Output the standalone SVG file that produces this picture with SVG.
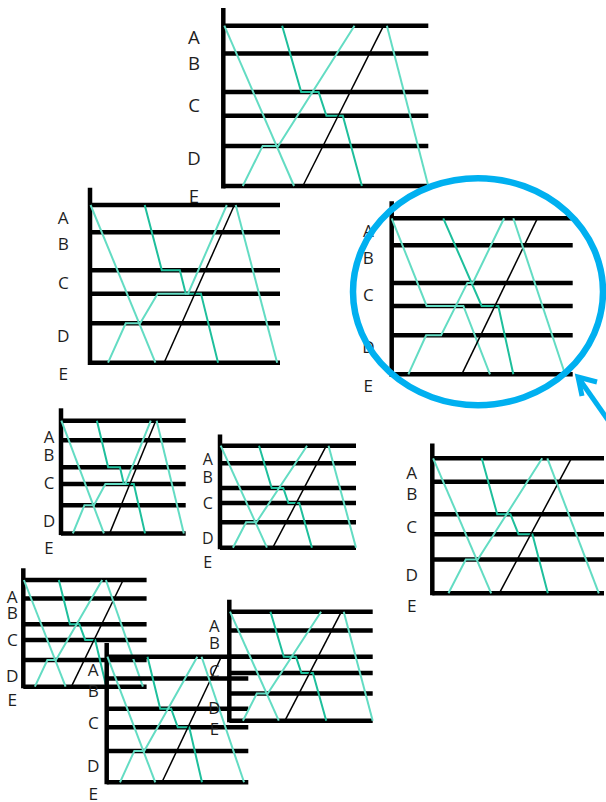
<svg xmlns="http://www.w3.org/2000/svg" xmlns:xlink="http://www.w3.org/1999/xlink" width="606" height="802" viewBox="0 0 606 802">
<style>
.ax,.hl{stroke:#000;stroke-width:4.5;fill:none;vector-effect:non-scaling-stroke}
.lt{stroke:#63dcc3;stroke-width:2;fill:none;vector-effect:non-scaling-stroke}
.dk{stroke:#1ebf9c;stroke-width:2;fill:none;vector-effect:non-scaling-stroke}
.bk{stroke:#000;stroke-width:1.5;fill:none;vector-effect:non-scaling-stroke}
text{font-family:"Open Sans","Liberation Sans",sans-serif;fill:#1e1e1e;text-anchor:middle}
.ring{fill:none;stroke:#00b0f0;stroke-width:6.5}
</style>
<defs>
<g id="frame">
<path class="ax" d="M0,-11V101.5"/>
<path class="hl" d="M0,0H100M0,17.3H100M0,41.4H100M0,56.2H100M0,75H100M0,100H100"/>
</g>
<g id="tA">
<use href="#frame"/>
<polyline class="lt" points="0.5,0 34.5,100"/>
<polyline class="dk" points="28.7,0 38,41.4 46.5,41.4 50.3,56.2 58.3,56.2 67.6,100"/>
<polyline class="lt" points="9.5,100 19.2,75 26.8,75 64,0"/>
<polyline class="bk" points="38.8,100 78.2,0"/>
<polyline class="lt" points="79.8,0 100,100"/>
</g>
<g id="tB">
<use href="#frame"/>
<polyline class="lt" points="0.3,0 34.4,100"/>
<polyline class="dk" points="28.8,0 37.8,41.4 47.3,41.4 50.4,56.2 58.4,56.2 67.4,100"/>
<polyline class="lt" points="9.5,100 18.8,75 26.4,75 35.6,56.2 51.6,56.2 72,0"/>
<polyline class="bk" points="39,100 76,0"/>
<polyline class="lt" points="76.7,0 98.5,100"/>
</g>
<g id="tC">
<use href="#frame"/>
<polyline class="lt" points="0.5,0 34.3,100"/>
<polyline class="dk" points="28.8,0 37.8,41.4 45.5,41.4 50.2,56.2 58.3,56.2 67.3,100"/>
<polyline class="lt" points="9.4,100 19.5,75 26.5,75 64,0"/>
<polyline class="bk" points="39,100 81,0"/>
<polyline class="lt" points="67,0 97,100"/>
</g>
<g id="tD">
<use href="#frame"/>
<polyline class="lt" points="0,0 19.3,56.2 39.6,56.2 54.3,100"/>
<polyline class="dk" points="28.5,0 49.7,56.2 58.9,56.2 67.2,100"/>
<polyline class="lt" points="9.2,100 19,75 27.3,75 41.8,41.4 44.8,41.4 62.1,0"/>
<polyline class="bk" points="38.7,100 80.5,0"/>
<polyline class="lt" points="67.2,0 95.8,100"/>
</g>
</defs>

<g id="chart1">
<use href="#tA" transform="translate(223.3,25.7) scale(2.05,1.603)"/>
<g font-size="18.6"><text x="194" y="44">A</text><text x="194" y="70">B</text><text x="194" y="111.7">C</text><text x="194" y="165">D</text><text x="194" y="203">E</text></g>
</g>
<g id="chart2">
<use href="#tB" transform="translate(90,205) scale(1.9,1.577)"/>
<g font-size="17.2"><text x="63.3" y="224">A</text><text x="63.3" y="250">B</text><text x="63.3" y="289">C</text><text x="63.3" y="341.7">D</text><text x="63.3" y="380">E</text></g>
</g>
<g id="chart3">
<use href="#tD" transform="translate(391.7,218.3) scale(1.81,1.56)"/>
<g font-size="17"><text x="368.3" y="237">A</text><text x="368.3" y="263.5">B</text><text x="368.3" y="300.5">C</text><text x="368.3" y="352.5">D</text><text x="368.3" y="391.5">E</text></g>
</g>
<g id="chart4">
<use href="#tB" transform="translate(61,420.7) scale(1.247,1.127)"/>
<g font-size="16.8"><text x="49" y="442.7">A</text><text x="49" y="461">B</text><text x="49" y="489.3">C</text><text x="49" y="526.7">D</text><text x="49" y="554.3">E</text></g>
</g>
<g id="chart5">
<use href="#tA" transform="translate(220,445.7) scale(1.36,1.02)"/>
<g font-size="16"><text x="207.7" y="465">A</text><text x="207.7" y="483.3">B</text><text x="207.7" y="509.3">C</text><text x="207.7" y="544">D</text><text x="207.7" y="568.3">E</text></g>
</g>
<g id="chart6">
<use href="#tC" transform="translate(432.3,458.3) scale(1.717,1.35)"/>
<g font-size="17.2"><text x="411.7" y="479">A</text><text x="411.7" y="500">B</text><text x="411.7" y="533.3">C</text><text x="411.7" y="580.7">D</text><text x="411.7" y="612">E</text></g>
</g>
<g id="chart7">
<use href="#tC" transform="translate(23.3,580) scale(1.233,1.067)"/>
<g font-size="17.2"><text x="12.3" y="603.3">A</text><text x="12.3" y="619">B</text><text x="12.3" y="646">C</text><text x="12.3" y="681.7">D</text><text x="12.3" y="705.7">E</text></g>
</g>
<g id="chart8">
<use href="#tC" transform="translate(106.7,656.7) scale(1.416,1.256)"/>
<g font-size="17.2"><text x="93.3" y="675.7">A</text><text x="93.3" y="696.7">B</text><text x="93.3" y="729">C</text><text x="93.3" y="772.3">D</text><text x="93.3" y="800">E</text></g>
</g>
<g id="chart9">
<use href="#tA" transform="translate(229.3,611.7) scale(1.434,1.09)"/>
<g font-size="16.8"><text x="214.3" y="631.7">A</text><text x="214.3" y="649.3">B</text><text x="214.3" y="677.3">C</text><text x="214.3" y="714">D</text><text x="214.3" y="735">E</text></g>
</g>

<g id="highlight">
<ellipse class="ring" cx="478" cy="291.7" rx="125" ry="113.5"/>
</g>
<g id="connectors">
<path d="M608,420L580,380" stroke="#00b0f0" stroke-width="5" fill="none"/>
<path d="M597,382L578,377L582,396" stroke="#00b0f0" stroke-width="5" fill="none" stroke-linejoin="miter"/>
</g>
</svg>
